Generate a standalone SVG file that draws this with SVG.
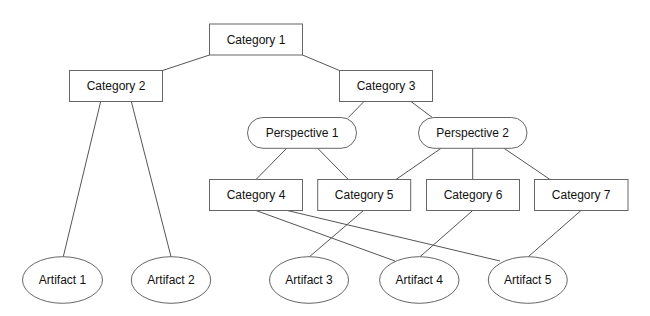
<svg xmlns="http://www.w3.org/2000/svg" width="650" height="316" viewBox="0 0 650 316">
<style>
.box{fill:#fff;stroke:#666;stroke-width:1}
.lbl{font-family:"Liberation Sans",Arial,sans-serif;font-size:12px;fill:#111;text-anchor:middle;dominant-baseline:central}
.edge{stroke:#555;stroke-width:1;fill:none}
</style>
<rect width="650" height="316" fill="#fff"/>
<g id="connectors">
<line class="edge" x1="209.5" y1="55" x2="162.5" y2="70.5"/>
<line class="edge" x1="302.5" y1="55" x2="339.5" y2="70.5"/>
<line class="edge" x1="100.7" y1="101.5" x2="63.3" y2="256.7"/>
<line class="edge" x1="131.3" y1="101.5" x2="171" y2="256.7"/>
<line class="edge" x1="364" y1="101.5" x2="348.3" y2="117.5"/>
<line class="edge" x1="411" y1="101.5" x2="432.3" y2="117.5"/>
<line class="edge" x1="286.7" y1="148.3" x2="256" y2="179.5"/>
<line class="edge" x1="317.7" y1="148.3" x2="348.3" y2="179.5"/>
<line class="edge" x1="441" y1="148.3" x2="396" y2="179.5"/>
<line class="edge" x1="472.7" y1="148.3" x2="472.7" y2="179.5"/>
<line class="edge" x1="504" y1="148.3" x2="550" y2="179.5"/>
<line class="edge" x1="256" y1="210.5" x2="395" y2="261"/>
<line class="edge" x1="287.3" y1="210.5" x2="500" y2="261"/>
<line class="edge" x1="363.5" y1="210.5" x2="309.5" y2="256.7"/>
<line class="edge" x1="472.7" y1="210.5" x2="420" y2="256.7"/>
<line class="edge" x1="581" y1="210.5" x2="528.3" y2="256.7"/>
</g>
<g id="category1"><rect class="box" x="209.5" y="24" width="93" height="31"/><text class="lbl" x="256" y="39.5">Category 1</text></g>
<g id="category2"><rect class="box" x="69.5" y="70.5" width="93" height="31"/><text class="lbl" x="116" y="86">Category 2</text></g>
<g id="category3"><rect class="box" x="339.5" y="70.5" width="93" height="31"/><text class="lbl" x="386" y="86">Category 3</text></g>
<g id="perspective1"><rect class="box" x="247.5" y="117.5" width="109" height="30.8" rx="15.4"/><text class="lbl" x="302" y="133">Perspective 1</text></g>
<g id="perspective2"><rect class="box" x="418.5" y="117.5" width="108.5" height="30.8" rx="15.4"/><text class="lbl" x="472.7" y="133">Perspective 2</text></g>
<g id="category4"><rect class="box" x="209.5" y="179.5" width="93" height="31"/><text class="lbl" x="256" y="195">Category 4</text></g>
<g id="category5"><rect class="box" x="317.7" y="179.5" width="93" height="31"/><text class="lbl" x="364.2" y="195">Category 5</text></g>
<g id="category6"><rect class="box" x="426.5" y="179.5" width="93" height="31"/><text class="lbl" x="473" y="195">Category 6</text></g>
<g id="category7"><rect class="box" x="534.5" y="179.5" width="93.5" height="31"/><text class="lbl" x="581.2" y="195">Category 7</text></g>
<g id="artifact1"><ellipse class="box" cx="62.5" cy="280" rx="40" ry="23.3"/><text class="lbl" x="62.5" y="280">Artifact 1</text></g>
<g id="artifact2"><ellipse class="box" cx="171" cy="280" rx="39.7" ry="23.3"/><text class="lbl" x="171" y="280">Artifact 2</text></g>
<g id="artifact3"><ellipse class="box" cx="309" cy="280" rx="39.5" ry="23.3"/><text class="lbl" x="309" y="280">Artifact 3</text></g>
<g id="artifact4"><ellipse class="box" cx="419.3" cy="280" rx="39.7" ry="23.3"/><text class="lbl" x="419.3" y="280">Artifact 4</text></g>
<g id="artifact5"><ellipse class="box" cx="527.8" cy="280" rx="39.5" ry="23.3"/><text class="lbl" x="527.8" y="280">Artifact 5</text></g>
</svg>
